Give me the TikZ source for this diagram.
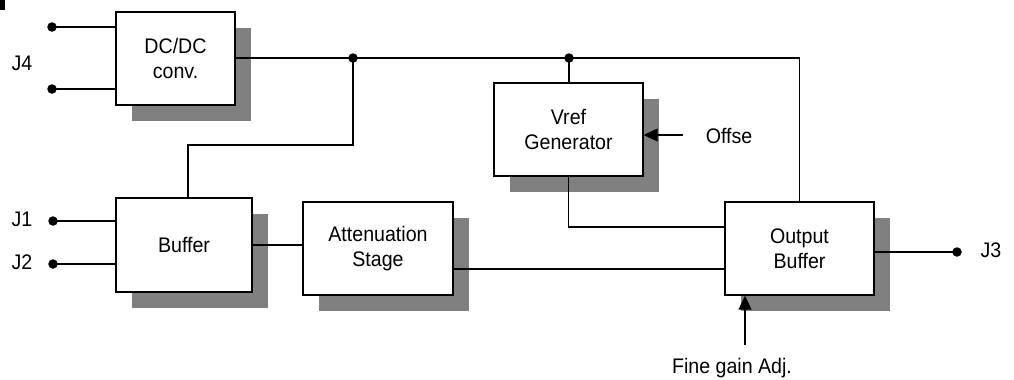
\documentclass[tikz,border=0pt]{standalone}
\usepackage{fontspec}
\setmainfont[FakeStretch=0.93]{Liberation Sans}
\usetikzlibrary{arrows.meta,positioning,shadows}

\begin{document}
\begin{tikzpicture}[
  x=0.02cm, y=-0.02cm,
  block/.style={rectangle, draw, line width=0.8pt, fill=white, align=center,
                font=\fontsize{12}{14}\selectfont, inner sep=0pt,
                drop shadow={shadow xshift=0.32cm, shadow yshift=-0.32cm,
                             fill=black!50, opacity=1}},
  wire/.style={line width=0.65pt},
  arrow/.style={-{Triangle[length=0.28cm, width=0.26cm]}, line width=0.65pt},
  term/.style={circle, fill=black, inner sep=0pt, minimum size=0.19cm},
  lbl/.style={font=\fontsize{12}{14}\selectfont}
]
  \useasboundingbox (0,0) rectangle (1014,379);
  \fill (0,0) rectangle (5,10);

  % blocks
  \node[block, minimum width=2.38cm, minimum height=1.86cm] (dcdc) at (175.5,58.5) {DC/DC\\conv.};
  \node[block, minimum width=2.98cm, minimum height=1.86cm] (vref) at (568.5,129.5) {Vref\\Generator};
  \node[block, minimum width=2.72cm, minimum height=1.88cm] (buffer) at (184,245) {Buffer};
  \node[block, minimum width=3.0cm, minimum height=1.86cm] (atten) at (378,248.5) {Attenuation\\Stage};
  \node[block, minimum width=2.98cm, minimum height=1.86cm] (outbuf) at (799.5,248.5) {Output\\Buffer};

  % terminals
  \node[term] (j4a) at (52,27) {};
  \node[term] (j4b) at (52,89) {};
  \node[term] (j1) at (53,221) {};
  \node[term] (j2) at (53,264) {};
  \node[term] (j3) at (957,252) {};
  \node[term] (ja) at (353,58) {};
  \node[term] (jb) at (569,58) {};

  \node[lbl] (l4) at (22,63) {J4};
  \node[lbl] (l1) at (22,219) {J1};
  \node[lbl] (l2) at (22,262) {J2};
  \node[lbl] (l3) at (991,250) {J3};
  \node[lbl] (offs) at (729,136) {Offse};
  \node[lbl] (fine) at (732,368) {Fine gain Adj.};
  \coordinate (offsin) at (683,135);
  \coordinate (finein) at (745,345);
  \coordinate (bend) at (188,145);

  % wires
  \draw[wire] (j4a.center) -- (j4a -| dcdc.west);
  \draw[wire] (j4b.center) -- (j4b -| dcdc.west);
  \draw[wire] (j1.center) -- (j1 -| buffer.west);
  \draw[wire] (j2.center) -- (j2 -| buffer.west);
  \draw[wire] (dcdc.east |- ja) -- (outbuf.north |- ja) -- (outbuf.north);
  \draw[wire] (jb.center) -- (jb |- vref.north);
  \draw[wire] (ja.center) |- (bend) -- (bend |- buffer.north);
  \draw[wire] (vref.south) |- (outbuf.west |- 0,227);
  \draw[wire] (buffer.east) -- (buffer.east -| atten.west);
  \draw[wire] (atten.east |- 0,269) -- (outbuf.west |- 0,269);
  \draw[wire] (outbuf.east |- j3) -- (j3.center);
  \draw[arrow] (offsin) -- (offsin -| vref.east);
  \draw[arrow] (finein) -- (finein |- outbuf.south);
\end{tikzpicture}
\end{document}
